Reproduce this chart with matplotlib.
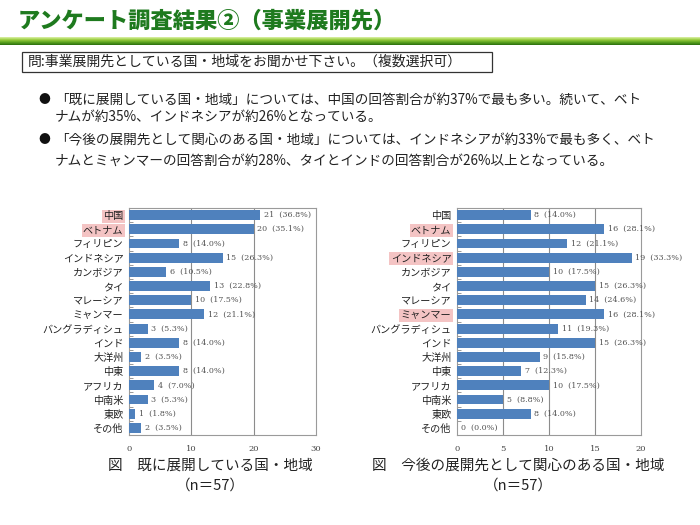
import matplotlib
matplotlib.use("Agg")
import matplotlib.pyplot as plt
import numpy as np
from matplotlib.colors import LinearSegmentedColormap
from matplotlib.patches import Rectangle

plt.rcParams['font.family'] = ['Noto Sans CJK JP', 'DejaVu Sans']

# カテゴリ
categories = ['中国', 'ベトナム', 'フィリピン', 'インドネシア', 'カンボジア', 'タイ',
              'マレーシア', 'ミャンマー', 'バングラディシュ', 'インド', '大洋州', '中東',
              'アフリカ', '中南米', '東欧', 'その他']

# 既に展開している国・地域
current_counts = [21, 20, 8, 15, 6, 13, 10, 12, 3, 8, 2, 8, 4, 3, 1, 2]
current_pct = [36.8, 35.1, 14.0, 26.3, 10.5, 22.8, 17.5, 21.1, 5.3, 14.0, 3.5, 14.0,
               7.0, 5.3, 1.8, 3.5]
current_highlight = ['中国', 'ベトナム']

# 今後の展開先として関心のある国・地域
future_counts = [8, 16, 12, 19, 10, 15, 14, 16, 11, 15, 9, 7, 10, 5, 8, 0]
future_pct = [14.0, 28.1, 21.1, 33.3, 17.5, 26.3, 24.6, 28.1, 19.3, 26.3, 15.8, 12.3,
              17.5, 8.8, 14.0, 0.0]
future_highlight = ['ベトナム', 'インドネシア', 'ミャンマー']

bar_color = '#4F81BD'

fig = plt.figure(figsize=(7, 5.25), dpi=100)
W, H = 700, 525


def fx(px):
    return px / W


def fy(py):
    return 1 - py / H


# タイトル
fig.text(fx(18), fy(21), 'アンケート調査結果②（事業展開先）', fontsize=16, fontweight='heavy',
         color='#1E7A1E', va='center', ha='left')

# 緑のライン (グラデーション)
ax_bar = fig.add_axes([0, fy(45), 1, 8 / H])
cmap = LinearSegmentedColormap.from_list('g', ['#DDF2A8', '#9ACD3F', '#5AA21E', '#2B6E0E'])
ax_bar.imshow(np.linspace(0, 1, 50).reshape(-1, 1), aspect='auto', cmap=cmap,
              extent=[0, 1, 0, 1])
ax_bar.axis('off')

# 質問ボックス
fig.patches.append(Rectangle((fx(22), fy(72)), fx(492) - fx(22), 20 / H,
                             transform=fig.transFigure, fill=False,
                             edgecolor='#333333', linewidth=0.9))
fig.text(fx(28), fy(62), '問:事業展開先としている国・地域をお聞かせ下さい。（複数選択可）',
         fontsize=10, va='center', ha='left', color='#222222')

# 説明文
lines = [
    (100, True, '「既に展開している国・地域」については、中国の回答割合が約37%で最も多い。続いて、ベト'),
    (117, False, 'ナムが約35%、インドネシアが約26%となっている。'),
    (140, True, '「今後の展開先として関心のある国・地域」については、インドネシアが約33%で最も多く、ベト'),
    (161, False, 'ナムとミャンマーの回答割合が約28%、タイとインドの回答割合が26%以上となっている。'),
]
for y, bullet, txt in lines:
    if bullet:
        fig.text(fx(38), fy(y), '●', fontsize=8.5, va='center', ha='left', color='#111111')
    fig.text(fx(55), fy(y), txt, fontsize=9.8, va='center', ha='left', color='#222222')


def draw_panel(rect, counts, pct, highlight, xmax, xticks, title_x, title):
    ax = fig.add_axes(rect)
    y = np.arange(len(categories))
    ax.barh(y, counts, height=0.7, color=bar_color, zorder=3)
    ax.set_ylim(len(categories) - 0.5, -0.5)
    ax.set_xlim(0, xmax)
    ax.set_xticks(xticks)
    ax.set_xticklabels([str(t) for t in xticks], fontsize=6, color='#444444',
                       family=['DejaVu Serif'])
    ax.tick_params(axis='x', length=0, pad=7)
    ax.set_yticks(y)
    ax.set_yticklabels(categories, fontsize=7.3, color='#222222')
    ax.set_yticks(np.arange(len(categories) + 1) - 0.5, minor=True)
    ax.tick_params(axis='y', which='major', length=0, pad=4)
    ax.tick_params(axis='y', which='minor', length=3, color='#888888', direction='in')
    for lbl in ax.get_yticklabels():
        if lbl.get_text() in highlight:
            lbl.set_bbox(dict(facecolor='#F4C4C4', edgecolor='none', pad=1))
    for t in xticks[1:-1]:
        ax.axvline(t, color='#8C8C8C', linewidth=0.8, zorder=1)
    for s in ax.spines.values():
        s.set_color('#9A9A9A')
        s.set_linewidth(0.8)
    for yi, c, p in zip(y, counts, pct):
        ax.text(c + xmax * 0.02, yi, f'{c}  ({p:.1f}%)', fontsize=5.8, va='center',
                ha='left', color='#555555', family=['DejaVu Serif'], zorder=4)
    fig.text(title_x, fy(466), title, fontsize=10.5, ha='center', va='center', color='#222222')
    fig.text(title_x, fy(486), '（n＝57）', fontsize=10.5, ha='center', va='center',
             color='#222222')
    return ax


draw_panel([fx(129), fy(435), fx(316) - fx(129), (435 - 208) / H],
           current_counts, current_pct, current_highlight, 30, [0, 10, 20, 30],
           fx(210), '図　既に展開している国・地域')
draw_panel([fx(457), fy(435), fx(641) - fx(457), (435 - 208) / H],
           future_counts, future_pct, future_highlight, 20, [0, 5, 10, 15, 20],
           fx(518), '図　今後の展開先として関心のある国・地域')

fig.savefig('out.png', dpi=100)
